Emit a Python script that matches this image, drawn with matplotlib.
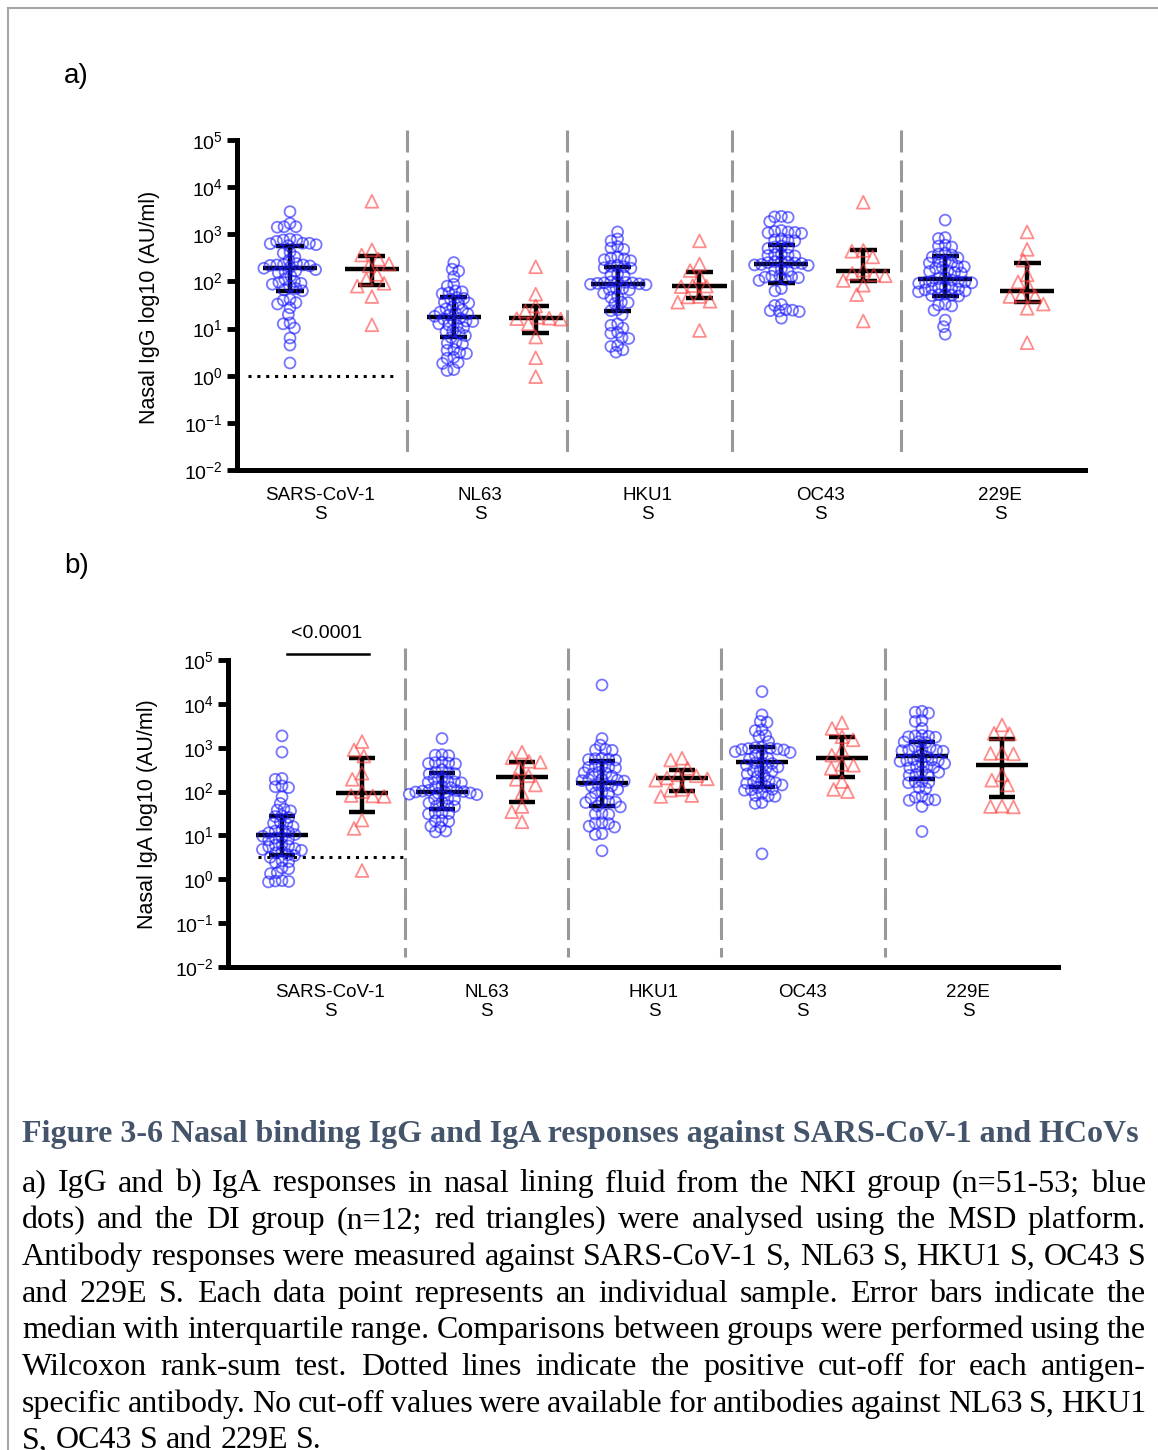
import numpy as np
import matplotlib
matplotlib.use("Agg")
import matplotlib.pyplot as plt
import matplotlib.transforms as mtransforms

# ---- data (log10 AU/ml) ----
antigens = ["SARS-CoV-1\nS", "NL63\nS", "HKU1\nS", "OC43\nS", "229E\nS"]

# a) IgG, NKI group (blue circles)
sars_igg_nki = [3.48, 3.23, 3.16, 3.16, 3.15, 2.90, 2.88, 2.88, 2.85, 2.81, 2.81, 2.80, 2.78,
                2.76, 2.62, 2.60, 2.52, 2.45, 2.38, 2.36, 2.35, 2.35, 2.34, 2.33, 2.30, 2.28,
                2.25, 2.22, 2.20, 2.18, 2.12, 2.05, 2.00, 1.98, 1.96, 1.94, 1.90, 1.85, 1.82,
                1.80, 1.62, 1.60, 1.55, 1.52, 1.44, 1.30, 1.12, 1.10, 1.01, 0.80, 0.65, 0.27]
nl63_igg_nki = [2.40, 2.26, 2.22, 2.10, 1.94, 1.90, 1.80, 1.78, 1.76, 1.74, 1.66, 1.64, 1.62,
                1.56, 1.54, 1.52, 1.46, 1.42, 1.40, 1.35, 1.33, 1.31, 1.29, 1.26, 1.22, 1.20,
                1.18, 1.16, 1.15, 1.10, 1.08, 1.06, 1.02, 0.95, 0.93, 0.91, 0.85, 0.81, 0.71,
                0.69, 0.67, 0.56, 0.54, 0.49, 0.47, 0.39, 0.37, 0.28, 0.26, 0.13, 0.11]
hku1_igg_nki = [3.05, 2.90, 2.86, 2.74, 2.71, 2.68, 2.52, 2.50, 2.48, 2.46, 2.44, 2.34, 2.32,
                2.31, 2.29, 2.28, 2.16, 2.14, 2.12, 2.00, 1.99, 1.98, 1.97, 1.97, 1.96, 1.95,
                1.94, 1.93, 1.86, 1.85, 1.83, 1.82, 1.68, 1.66, 1.56, 1.55, 1.53, 1.40, 1.38,
                1.29, 1.10, 1.07, 1.01, 0.92, 0.90, 0.81, 0.79, 0.64, 0.62, 0.55, 0.50, 1.75]
oc43_igg_nki = [3.38, 3.37, 3.36, 3.27, 3.08, 3.06, 3.05, 3.04, 3.03, 3.02, 2.90, 2.88, 2.87,
                2.86, 2.75, 2.73, 2.72, 2.70, 2.58, 2.57, 2.56, 2.55, 2.54, 2.43, 2.42, 2.41,
                2.40, 2.39, 2.38, 2.36, 2.35, 2.34, 2.26, 2.24, 2.22, 2.12, 2.11, 2.10, 2.09,
                2.08, 2.04, 2.02, 1.85, 1.80, 1.51, 1.49, 1.40, 1.39, 1.38, 1.37, 1.36, 1.22]
e229_igg_nki = [3.30, 2.93, 2.91, 2.77, 2.75, 2.73, 2.58, 2.56, 2.52, 2.50, 2.43, 2.42, 2.40,
                2.39, 2.32, 2.31, 2.30, 2.28, 2.22, 2.21, 2.19, 2.18, 2.08, 2.06, 2.03, 2.01,
                2.00, 1.99, 1.98, 1.97, 1.96, 1.88, 1.87, 1.86, 1.85, 1.84, 1.82, 1.80, 1.78,
                1.73, 1.72, 1.71, 1.70, 1.69, 1.52, 1.50, 1.48, 1.39, 1.18, 1.04, 0.88, 2.60]

# a) IgG, DI group (red triangles)
sars_igg_di = [3.70, 2.67, 2.56, 2.47, 2.37, 2.33, 2.15, 2.05, 1.96, 1.90, 1.68, 1.08]
nl63_igg_di = [2.31, 1.73, 1.48, 1.37, 1.24, 1.22, 1.21, 1.20, 1.10, 0.82, 0.38, -0.02]
hku1_igg_di = [2.86, 2.37, 2.23, 2.10, 1.91, 1.90, 1.89, 1.68, 1.67, 1.58, 1.56, 0.96]
oc43_igg_di = [3.68, 2.66, 2.64, 2.52, 2.24, 2.17, 2.14, 2.12, 2.02, 1.92, 1.72, 1.16]
e229_igg_di = [3.05, 2.68, 2.45, 2.14, 1.99, 1.89, 1.70, 1.69, 1.68, 1.52, 1.43, 0.70]

igg_nki_med = [2.29, 1.25, 1.94, 2.38, 2.05]
igg_nki_q1 = [1.80, 0.82, 1.38, 1.97, 1.69]
igg_nki_q3 = [2.76, 1.66, 2.30, 2.77, 2.54]
igg_di_med = [2.26, 1.23, 1.91, 2.22, 1.80]
igg_di_q1 = [1.92, 0.91, 1.64, 2.01, 1.57]
igg_di_q3 = [2.54, 1.47, 2.19, 2.67, 2.40]

# b) IgA, NKI group
sars_iga_nki = [3.27, 2.90, 2.30, 2.28, 2.13, 2.11, 2.09, 1.88, 1.73, 1.60, 1.58, 1.56, 1.45,
                1.43, 1.41, 1.30, 1.28, 1.26, 1.20, 1.12, 1.10, 1.08, 1.06, 1.02, 0.98, 0.96,
                0.94, 0.92, 0.90, 0.80, 0.78, 0.76, 0.74, 0.70, 0.68, 0.66, 0.64, 0.56, 0.54,
                0.50, 0.42, 0.40, 0.38, 0.26, 0.24, 0.15, 0.13, -0.03, -0.05, -0.06, -0.04, 0.60]
nl63_iga_nki = [3.21, 2.84, 2.83, 2.82, 2.67, 2.66, 2.65, 2.64, 2.63, 2.50, 2.44, 2.43, 2.41,
                2.40, 2.31, 2.29, 2.23, 2.22, 2.21, 2.20, 2.12, 2.10, 2.09, 2.03, 2.02, 2.01,
                2.00, 1.99, 1.98, 1.97, 1.96, 1.94, 1.93, 1.84, 1.83, 1.82, 1.76, 1.74, 1.68,
                1.67, 1.66, 1.52, 1.51, 1.50, 1.49, 1.34, 1.33, 1.32, 1.21, 1.19, 1.10, 1.08]
hku1_iga_nki = [4.43, 3.21, 3.06, 2.96, 2.95, 2.94, 2.76, 2.75, 2.74, 2.73, 2.72, 2.58, 2.57,
                2.56, 2.55, 2.54, 2.44, 2.43, 2.42, 2.40, 2.28, 2.27, 2.26, 2.25, 2.24, 2.15,
                2.14, 2.13, 2.12, 1.99, 1.97, 1.96, 1.78, 1.77, 1.76, 1.75, 1.67, 1.65, 1.50,
                1.49, 1.48, 1.29, 1.28, 1.27, 1.21, 1.19, 1.04, 1.02, 0.65, 2.35, 2.05, 1.85]
oc43_iga_nki = [4.28, 3.75, 3.60, 3.58, 3.41, 3.39, 3.28, 3.26, 3.14, 3.01, 3.00, 2.99, 2.98,
                2.97, 2.96, 2.95, 2.91, 2.89, 2.84, 2.82, 2.76, 2.74, 2.66, 2.65, 2.64, 2.60,
                2.56, 2.54, 2.48, 2.47, 2.46, 2.40, 2.36, 2.34, 2.25, 2.22, 2.21, 2.20, 2.19,
                2.15, 2.11, 2.09, 2.05, 2.04, 2.03, 1.96, 1.91, 1.90, 1.89, 1.75, 1.73, 0.58]
e229_iga_nki = [3.83, 3.81, 3.79, 3.62, 3.60, 3.44, 3.28, 3.27, 3.26, 3.25, 3.24, 3.14, 3.13,
                3.12, 3.02, 3.00, 2.96, 2.95, 2.94, 2.93, 2.92, 2.82, 2.80, 2.73, 2.72, 2.71,
                2.70, 2.69, 2.66, 2.64, 2.57, 2.56, 2.55, 2.54, 2.46, 2.44, 2.39, 2.38, 2.37,
                2.23, 2.22, 2.21, 2.20, 2.09, 2.07, 1.89, 1.87, 1.82, 1.81, 1.80, 1.66, 1.09]

# b) IgA, DI group
sars_iga_di = [3.14, 2.95, 2.81, 2.42, 2.28, 2.00, 1.91, 1.90, 1.89, 1.35, 1.16, 0.20]
nl63_iga_di = [2.90, 2.77, 2.69, 2.67, 2.53, 2.36, 2.28, 2.15, 1.97, 1.66, 1.54, 1.31]
hku1_iga_di = [2.76, 2.72, 2.53, 2.38, 2.36, 2.31, 2.29, 2.26, 2.05, 2.03, 1.91, 1.89]
oc43_iga_di = [3.57, 3.44, 3.25, 3.18, 2.95, 2.83, 2.62, 2.60, 2.53, 2.23, 2.05, 2.00]
e229_iga_di = [3.52, 3.33, 3.32, 2.88, 2.87, 2.86, 2.38, 2.26, 2.15, 1.67, 1.66, 1.65]

iga_nki_med = [1.00, 2.00, 2.20, 2.68, 2.80]
iga_nki_q1 = [0.55, 1.60, 1.66, 2.11, 2.28]
iga_nki_q3 = [1.45, 2.42, 2.70, 3.02, 3.14]
iga_di_med = [1.96, 2.34, 2.32, 2.77, 2.61]
iga_di_q1 = [1.54, 1.77, 2.02, 2.34, 1.88]
iga_di_q3 = [2.76, 2.68, 2.49, 3.25, 3.20]

igg_cutoff = 0.0   # log10
iga_cutoff = 0.5
p_text = "<0.0001"

caption_title = "Figure 3-6 Nasal binding IgG and IgA responses against SARS-CoV-1 and HCoVs"
caption_lines = [
    "a) IgG and b) IgA responses in nasal lining fluid from the NKI group (n=51-53; blue",
    "dots) and the DI group (n=12; red triangles) were analysed using the MSD platform.",
    "Antibody responses were measured against SARS-CoV-1 S, NL63 S, HKU1 S, OC43 S",
    "and 229E S. Each data point represents an individual sample. Error bars indicate the",
    "median with interquartile range. Comparisons between groups were performed using the",
    "Wilcoxon rank-sum test. Dotted lines indicate the positive cut-off for each antigen-",
    "specific antibody. No cut-off values were available for antibodies against NL63 S, HKU1",
    "S, OC43 S and 229E S.",
]

# ---- figure ----
W, H = 1158, 1450
plt.rcParams["font.family"] = ["Liberation Sans", "DejaVu Sans"]
plt.rcParams["mathtext.default"] = "regular"
plt.rcParams["axes.unicode_minus"] = False
fig = plt.figure(figsize=(W / 100, H / 100), dpi=100)

BLUE = (0.1, 0.1, 1.0, 0.6)
RED = (1.0, 0.25, 0.25, 0.6)


def px(x, y):
    return x / W, 1 - y / H


def swarm(ax, x0, vals, d):
    # simple beeswarm in pixel space
    pts = ax.transData.transform(np.column_stack([np.full(len(vals), x0), 10.0 ** np.asarray(vals)]))
    ys = pts[:, 1]
    offs = np.zeros(len(vals))
    placed = []
    for i in np.argsort(-ys):
        y = ys[i]
        near = [(qx, qy) for qx, qy in placed if abs(qy - y) < d]
        cands = [0.0]
        for qx, qy in near:
            dx = np.sqrt(d ** 2 - (qy - y) ** 2)
            cands += [qx - dx, qx + dx]
        cands.sort(key=lambda c: (abs(c), c))
        for c in cands:
            if all((c - qx) ** 2 + (y - qy) ** 2 >= d ** 2 - 1e-6 for qx, qy in near):
                offs[i] = c
                placed.append((c, y))
                break
    ppu = ax.transData.transform((1, 1))[0] - ax.transData.transform((0, 1))[0]
    return x0 + offs / ppu


def errbar(ax, x, med, q1, q3):
    kw = dict(color="black", lw=3.2, solid_capstyle="butt", zorder=2)
    ax.plot([x - 0.33, x + 0.33], [10 ** med] * 2, **kw)
    ax.plot([x - 0.165, x + 0.165], [10 ** q1] * 2, **kw)
    ax.plot([x - 0.165, x + 0.165], [10 ** q3] * 2, **kw)
    ax.plot([x, x], [10 ** q1, 10 ** q3], **kw)


def panel(rect, xlim, nki, di, nki_stats, di_stats, seps, sep_span, label_x, cutoff, cut_x):
    ax = fig.add_axes(rect)
    ax.set_yscale("log")
    ax.set_ylim(1e-2, 1e5)
    ax.set_xlim(*xlim)
    for k in range(5):
        xb, xr = 2 * k, 2 * k + 1
        errbar(ax, xb, nki_stats[0][k], nki_stats[1][k], nki_stats[2][k])
        errbar(ax, xr, di_stats[0][k], di_stats[1][k], di_stats[2][k])
        ax.scatter(swarm(ax, xb, nki[k], 6.8), 10.0 ** np.asarray(nki[k]), s=62, marker="o",
                   facecolors="none", edgecolors=[BLUE], linewidths=1.3, zorder=3)
        ax.scatter(swarm(ax, xr, di[k], 11.5), 10.0 ** np.asarray(di[k]), s=85, marker="^",
                   facecolors="none", edgecolors=[RED], linewidths=1.3, zorder=3)
    trans = mtransforms.blended_transform_factory(ax.transData, ax.transAxes)
    for s in seps:
        ax.plot([s, s], [sep_span[1], sep_span[0]], transform=trans, color="#999999", lw=2.2,
                dashes=(7.2, 2.6), clip_on=False, zorder=1)
    ax.plot(cut_x, [10 ** cutoff] * 2, color="black", lw=2.2, dashes=(1, 1.9), zorder=1)
    for side in ["top", "right"]:
        ax.spines[side].set_visible(False)
    for side in ["left", "bottom"]:
        ax.spines[side].set_linewidth(3.6)
    ax.yaxis.set_major_locator(matplotlib.ticker.LogLocator(base=10, numticks=10))
    ax.yaxis.set_minor_locator(matplotlib.ticker.NullLocator())
    ax.tick_params(axis="y", length=7, width=3.5, labelsize=14, pad=3)
    ax.set_xticks(label_x, antigens)
    ax.tick_params(axis="x", length=0, labelsize=13.5, pad=12)
    return ax


ax_a = panel([237 / W, 1 - 470 / H, 848 / W, 330 / H], (-0.647, 9.707),
             [sars_igg_nki, nl63_igg_nki, hku1_igg_nki, oc43_igg_nki, e229_igg_nki],
             [sars_igg_di, nl63_igg_di, hku1_igg_di, oc43_igg_di, e229_igg_di],
             (igg_nki_med, igg_nki_q1, igg_nki_q3), (igg_di_med, igg_di_q1, igg_di_q3),
             [1.43, 3.38, 5.40, 7.46], (0.036, 1.03),
             [0.37, 2.32, 4.37, 6.48, 8.67], igg_cutoff, [-0.51, 1.26])

ax_b = panel([228 / W, 1 - 967 / H, 830 / W, 307 / H], (-0.675, 9.70),
             [sars_iga_nki, nl63_iga_nki, hku1_iga_nki, oc43_iga_nki, e229_iga_nki],
             [sars_iga_di, nl63_iga_di, hku1_iga_di, oc43_iga_di, e229_iga_di],
             (iga_nki_med, iga_nki_q1, iga_nki_q3), (iga_di_med, iga_di_q1, iga_di_q3),
             [1.54, 3.58, 5.49, 7.54], (0.033, 1.04),
             [0.60, 2.56, 4.65, 6.51, 8.58], iga_cutoff, [-0.30, 1.51])

# significance bar
tb = mtransforms.blended_transform_factory(ax_b.transData, ax_b.transAxes)
ax_b.plot([0.06, 1.09], [1.02, 1.02], transform=tb, color="black", lw=1.8, clip_on=False)
ax_b.text(0.56, 1.085, p_text, transform=tb, ha="center", va="center", fontsize=14)

# y labels and panel letters
fig.text(*px(150, 307), "Nasal IgG log10 (AU/ml)", rotation=90, ha="center", va="center", fontsize=15.5)
fig.text(*px(148, 814), "Nasal IgA log10 (AU/ml)", rotation=90, ha="center", va="center", fontsize=15.5)
fig.text(*px(64, 76), "a)", ha="left", va="center", fontsize=20)
fig.text(*px(64, 566), "b)", ha="left", va="center", fontsize=20)

# page border
fig.add_artist(plt.Line2D([8 / W, 1.0], [1 - 8 / H, 1 - 8 / H], color="#a6a6a6", lw=1.5))
fig.add_artist(plt.Line2D([8 / W, 8 / W], [0.0, 1 - 8 / H], color="#a6a6a6", lw=1.5))

# caption
serif = ["Liberation Serif", "DejaVu Serif"]
fsize = 23
fig.text(*px(22, 1142), caption_title, ha="left", va="baseline", fontsize=fsize,
         family=serif, weight="bold", color="#44546a")

renderer = fig.canvas.get_renderer()
left, right = 22, 1146
for i, line in enumerate(caption_lines):
    y = 1191.5 + i * 36.7
    words = line.split(" ")
    objs = [fig.text(0, 0, w, ha="left", va="baseline", fontsize=fsize, family=serif) for w in words]
    widths = [o.get_window_extent(renderer).width for o in objs]
    if i < len(caption_lines) - 1:
        gap = (right - left - sum(widths)) / (len(words) - 1)
    else:
        gap = fsize * 100 / 72 * 0.25
    x = left
    for o, w in zip(objs, widths):
        o.set_position(px(x, y))
        x += w + gap

fig.savefig("out.png", dpi=100)
